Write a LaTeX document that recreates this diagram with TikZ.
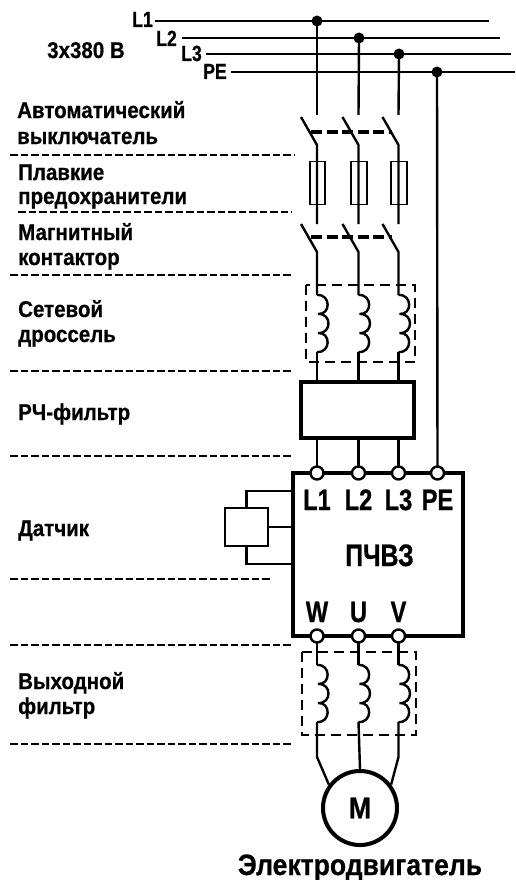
\documentclass[tikz,border=0pt]{standalone}
\usepackage{fontspec}
\newfontfamily\fbase[FakeStretch=0.90,BoldFeatures={FakeStretch=0.90,FakeBold=0.6}]{Liberation Sans}
\newfontfamily\fcond[FakeStretch=0.80,BoldFeatures={FakeStretch=0.80,FakeBold=0.8}]{Liberation Sans}
\newcommand\fb{\fbase\bfseries}
\newcommand\fc{\fcond\bfseries}
\newcommand\coilv[2]{% x, y top
  \draw[wire] (#1,#2) .. controls (#1+14,#2-1) and (#1+14,#2+20) .. (#1+1,#2+19)
   .. controls (#1+15,#2+18) and (#1+15,#2+39) .. (#1+1,#2+38)
   .. controls (#1+14,#2+37) and (#1+14,#2+58) .. (#1,#2+57);}
\tikzset{
 x=1pt,y=-1pt,
 wire/.style={line width=2.4pt},
 bus/.style={line width=2.5pt},
 thin wire/.style={line width=2.1pt},
 sep/.style={line width=2pt,dash pattern=on 7.5pt off 3pt},
 link/.style={line width=3.8pt,dash pattern=on 11pt off 4.5pt},
 dbox/.style={line width=1.9pt,dash pattern=on 10pt off 6pt},
 lbl/.style={anchor=base west,inner sep=0pt,font=\fb\fontsize{22.8}{22.8}\selectfont},
 big/.style={anchor=base,inner sep=0pt,font=\fc\fontsize{29.5}{29.5}\selectfont},
 buslbl/.style={anchor=base,inner sep=0pt,font=\fc\fontsize{22}{22}\selectfont},
 term/.style={circle,draw,fill=white,line width=2.4pt,minimum size=13pt,inner sep=0pt},
 jdot/.style={circle,fill=black,minimum size=11pt,inner sep=0pt},
 fuse/.style={rectangle,draw,line width=1.9pt,minimum width=15.5pt,minimum height=43pt,inner sep=0pt},
}
\begin{document}
\begin{tikzpicture}
\useasboundingbox (0,0) rectangle (515,880);
% bus labels
\node[buslbl] (tL1) at (142.5,27) {L1};
\node[buslbl] (tL2) at (166.5,46) {L2};
\node[buslbl] (tL3) at (191.5,61) {L3};
\node[buslbl] (tPE) at (215,79) {PE};
\node[lbl] (tU) at (47,58) {3х380 В};
% bus
\coordinate (a1) at (155,21); \coordinate (e1) at (489,21);
\coordinate (a2) at (182,38); \coordinate (e2) at (500,38);
\coordinate (a3) at (206,54); \coordinate (e3) at (511,54);
\coordinate (a4) at (231,72); \coordinate (e4) at (515,72);
\draw[bus] (a1)--(e1); \draw[bus] (a2)--(e2); \draw[bus] (a3)--(e3); \draw[bus] (a4)--(e4);
\node[jdot] (d1) at (317,21) {};
\node[jdot] (d2) at (359,38) {};
\node[jdot] (d3) at (399,54) {};
\node[jdot] (d4) at (437,72) {};
% terminals positions
\coordinate (t1) at (317,473); \coordinate (t2) at (358.5,473); \coordinate (t3) at (398.5,473); \coordinate (t4) at (437.5,473);
% main box
\draw[line width=4.5pt,line join=miter] (293,473) rectangle (463,636);
% PE wire
\draw[wire] (d4.center)--(t4);
% phases
\foreach \x/\d in {317/d1,358.5/d2,398.5/d3}{
  \draw[wire] (\d.center)--(\x,115);
  \draw[wire] (\x-16,117)--(\x,145)--(\x,224);
  \node[fuse,fill=none] at (\x+0.5,183) {};
  \draw[wire] (\x-16,224)--(\x,252)--(\x,295);
  \coilv{\x}{295}
  \draw[wire] (\x,352)--(\x,382);
  \draw[wire] (\x,438)--(\x,473);
  % output
  \draw[wire] (\x,636)--(\x,665);
  \coilv{\x}{665}
}
\draw[link] (311,132)--(392,132);
\draw[link] (311,237)--(392,237);
% dashed frames
\draw[dbox] (306,285) rectangle (415,362);
\draw[dbox] (302,652) rectangle (416,735);
% filter
\node[draw,line width=4.5pt,minimum width=113pt,minimum height=56pt,inner sep=0pt] (rf) at (357.5,410) {};
% terminals
\node[term] (T1) at (t1) {}; \node[term] (T2) at (t2) {}; \node[term] (T3) at (t3) {}; \node[term] (T4) at (t4) {};
\node[big] at (317,510) {L1};
\node[big] at (358.5,510) {L2};
\node[big] at (398.5,510) {L3};
\node[big] at (437.5,510) {PE};
\node[big,font=\fc\fontsize{31}{31}\selectfont] at (379.5,566) {ПЧВЗ};
\node[big] at (317,622) {W};
\node[big] at (358.5,622) {U};
\node[big] at (398.5,622) {V};
\node[term] (W) at (317,636) {}; \node[term] (U) at (358.5,636) {}; \node[term] (V) at (398.5,636) {};
% motor
\node[circle,draw,fill=white,line width=4pt,minimum size=74pt,inner sep=0pt,font=\fb\fontsize{30}{30}\selectfont] (M) at (360,808) {М};
\draw[wire] (317,722)--(317,757)--(M.143);
\draw[wire] (358.5,722)--(M.north);
\draw[wire] (398.5,722)--(398.5,757)--(M.37);
\node[big,font=\fb\fontsize{29.5}{29.5}\selectfont] (mt) at (360,875) {Электродвигатель};
% sensor
\node[draw,line width=2.1pt,minimum width=43pt,minimum height=38pt,inner sep=0pt] (S) at (246.5,527) {};
\coordinate (b1) at (293,491); \coordinate (b2) at (293,527); \coordinate (b3) at (293,564);
\draw[thin wire] (S.north) |- (b1);
\draw[thin wire] (S.east) -- (b2);
\draw[thin wire] (S.south) |- (b3);
% separators
\foreach \y/\xs/\xe in {155/10/295,212/18/292,275/10/292,371/10/292,456/10/292,579/10/272,645/10/293,744/10/292}{
  \draw[sep] (\xs,\y)--(\xe,\y);
}
% left labels
\node[lbl] at (17,118) {Автоматический};
\node[lbl] at (17,144) {выключатель};
\node[lbl] at (18,180) {Плавкие};
\node[lbl] at (18,204) {предохранители};
\node[lbl] at (18,240) {Магнитный};
\node[lbl] at (18,265) {контактор};
\node[lbl] at (18,317) {Сетевой};
\node[lbl] at (18,342) {дроссель};
\node[lbl] at (18,420) {РЧ-фильтр};
\node[lbl] at (18,536) {Датчик};
\node[lbl] at (18,689) {Выходной};
\node[lbl] at (18,714) {фильтр};
\end{tikzpicture}
\end{document}
